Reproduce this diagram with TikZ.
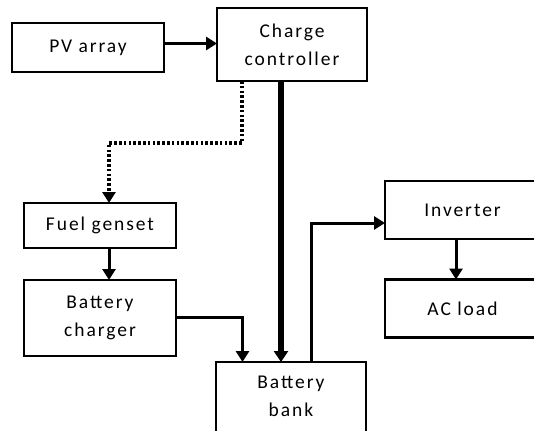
\documentclass[tikz,border=0pt]{standalone}
\usepackage{fontspec}
\setmainfont{Carlito}[LetterSpace=10]
\usetikzlibrary{arrows.meta}
\begin{document}
\begin{tikzpicture}[x=1pt,y=-1pt,
  box/.style={draw,line width=2.2pt,inner sep=0pt,outer sep=0pt,align=center,
    font=\fontsize{19.5}{28}\selectfont},
  txt/.style={inner sep=0pt,align=center,font=\fontsize{19.5}{28}\selectfont},
  arr/.style={line width=3pt,-{Triangle[length=11pt,width=13pt]}},
  thick arr/.style={line width=5.5pt,-{Triangle[length=11pt,width=14pt]}},
  dot arr/.style={line width=3.2pt,dash pattern=on 2.6pt off 2.2pt,-{Triangle[length=11pt,width=13pt]}}]
\useasboundingbox (0,0) rectangle (534,430);
\node[box,minimum width=152pt,minimum height=49pt] (pv) at (88,47.5) {PV array};
\node[box,minimum width=150pt,minimum height=73pt] (cc) at (292,44.5) {Charge\\controller};
\node[box,minimum width=152pt,minimum height=45pt] (fuel) at (100,225.5) {Fuel genset};
\node[box,minimum width=152pt,minimum height=76pt] (charger) at (100,318) {Battery\\charger};
\node[box,minimum width=150pt,minimum height=76pt] (bank) at (291,400) {};
\node[txt] (banktext) at (291,396.5) {Battery\\bank};
\node[box,minimum width=180pt,minimum height=58pt] (inv) at (475,210) {};
\node[txt] (invtext) at (462.5,210) {Inverter};
\node[box,minimum width=180pt,minimum height=58pt] (ac) at (475,308.5) {};
\node[txt] (actext) at (462.5,308.5) {AC load};
\coordinate (d1) at (242,143);
\coordinate (d2) at (109,143);
\coordinate (c1) at (242.5,317);
\coordinate (b1) at (311,223);
\draw[arr] ([yshift=4pt]pv.east) -- ([yshift=4pt]pv.east -| cc.west);
\draw[dot arr] (d1 |- cc.south) -- (d1) -- (d2) -- (d2 |- fuel.north);
\draw[arr] (d2 |- fuel.south) -- (d2 |- charger.north);
\draw[arr] (charger.east |- c1) -- (c1) -- (c1 |- bank.north);
\draw[thick arr] (281,0 |- cc.south) -- (281,0 |- bank.north);
\draw[arr] (b1 |- bank.north) -- (b1) -- (b1 -| inv.west);
\draw[arr] (456,0 |- inv.south) -- (456,0 |- ac.north);
\end{tikzpicture}
\end{document}
